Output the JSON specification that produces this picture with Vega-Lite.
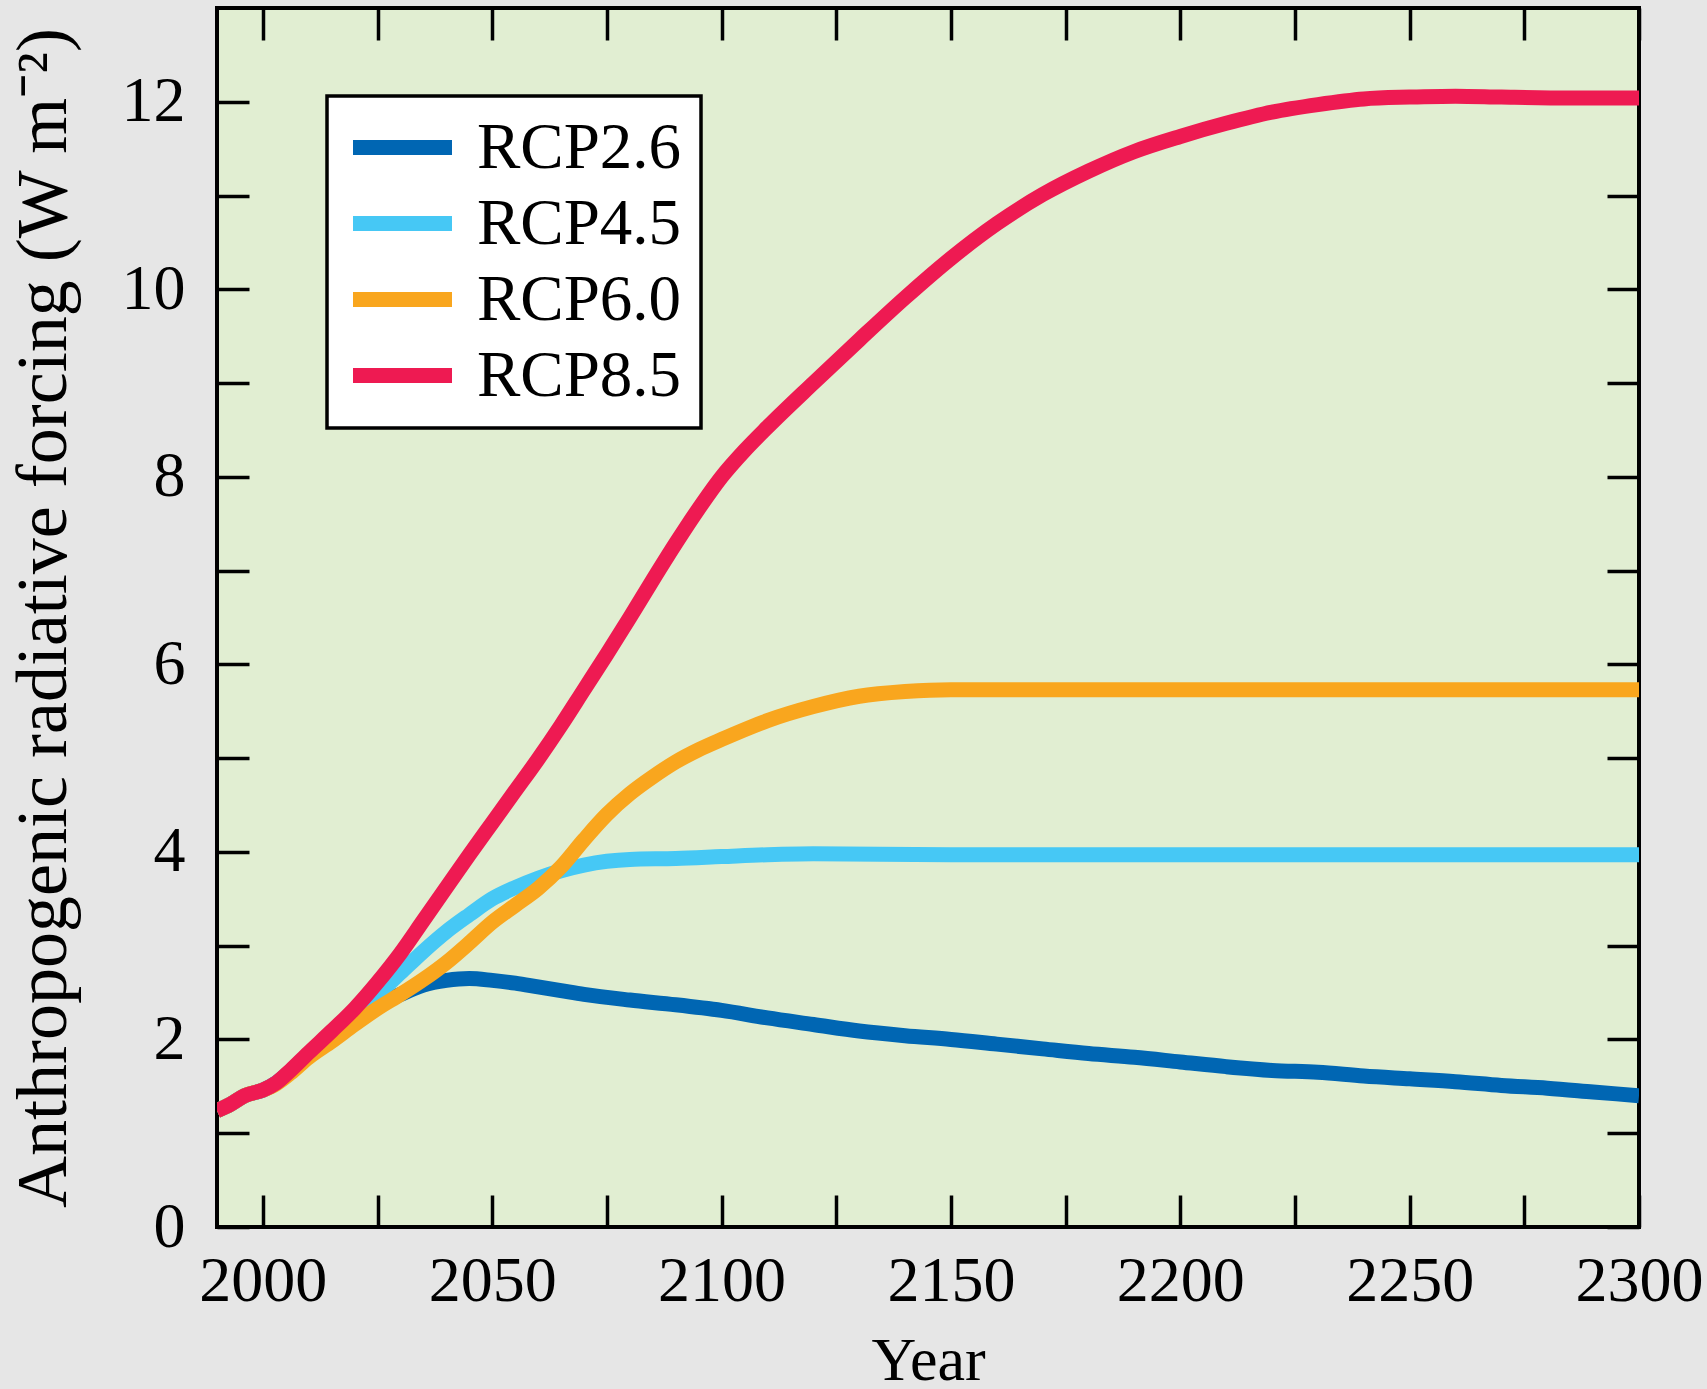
{
  "$schema": "https://vega.github.io/schema/vega-lite/v6.json",
  "autosize": {"type": "none"},
  "width": 1422,
  "height": 1219,
  "padding": {"left": 217, "top": 8, "right": 68, "bottom": 162},
  "background": "#e6e6e6",
  "config": {
    "view": {"fill": "#e1eed2", "stroke": "black", "strokeWidth": 4},
    "axis": {"grid": false, "domain": false, "tickColor": "black", "tickWidth": 3.5, "tickSize": -32, "labelFont": "Liberation Serif", "labelColor": "black", "labelFontSize": 64, "titleFont": "Liberation Serif", "titleColor": "black", "titleFontWeight": "normal", "labelOverlap": false, "labelFlush": false},
    "legend": {"strokeWidth": 3.5}
  },
  "data": {"values": [
    {"s":"RCP2.6","year":1990,"rf":1.24},{"s":"RCP2.6","year":1993,"rf":1.31},{"s":"RCP2.6","year":1996,"rf":1.40},{"s":"RCP2.6","year":2000,"rf":1.46},{"s":"RCP2.6","year":2003,"rf":1.54},{"s":"RCP2.6","year":2006,"rf":1.66},{"s":"RCP2.6","year":2010,"rf":1.84},{"s":"RCP2.6","year":2015,"rf":2.03},{"s":"RCP2.6","year":2020,"rf":2.21},{"s":"RCP2.6","year":2025,"rf":2.36},{"s":"RCP2.6","year":2030,"rf":2.48},{"s":"RCP2.6","year":2035,"rf":2.58},{"s":"RCP2.6","year":2040,"rf":2.63},{"s":"RCP2.6","year":2045,"rf":2.65},{"s":"RCP2.6","year":2050,"rf":2.63},{"s":"RCP2.6","year":2055,"rf":2.60},{"s":"RCP2.6","year":2060,"rf":2.56},{"s":"RCP2.6","year":2065,"rf":2.52},{"s":"RCP2.6","year":2070,"rf":2.48},{"s":"RCP2.6","year":2080,"rf":2.42},{"s":"RCP2.6","year":2090,"rf":2.37},{"s":"RCP2.6","year":2100,"rf":2.31},{"s":"RCP2.6","year":2110,"rf":2.23},{"s":"RCP2.6","year":2120,"rf":2.16},{"s":"RCP2.6","year":2130,"rf":2.09},{"s":"RCP2.6","year":2140,"rf":2.04},{"s":"RCP2.6","year":2150,"rf":2.00},{"s":"RCP2.6","year":2160,"rf":1.95},{"s":"RCP2.6","year":2170,"rf":1.90},{"s":"RCP2.6","year":2180,"rf":1.85},{"s":"RCP2.6","year":2190,"rf":1.81},{"s":"RCP2.6","year":2200,"rf":1.76},{"s":"RCP2.6","year":2210,"rf":1.71},{"s":"RCP2.6","year":2220,"rf":1.67},{"s":"RCP2.6","year":2230,"rf":1.65},{"s":"RCP2.6","year":2240,"rf":1.61},{"s":"RCP2.6","year":2250,"rf":1.58},{"s":"RCP2.6","year":2260,"rf":1.55},{"s":"RCP2.6","year":2270,"rf":1.51},{"s":"RCP2.6","year":2280,"rf":1.48},{"s":"RCP2.6","year":2290,"rf":1.44},{"s":"RCP2.6","year":2300,"rf":1.40},
    {"s":"RCP4.5","year":1990,"rf":1.24},{"s":"RCP4.5","year":1993,"rf":1.31},{"s":"RCP4.5","year":1996,"rf":1.40},{"s":"RCP4.5","year":2000,"rf":1.46},{"s":"RCP4.5","year":2003,"rf":1.54},{"s":"RCP4.5","year":2006,"rf":1.66},{"s":"RCP4.5","year":2010,"rf":1.85},{"s":"RCP4.5","year":2015,"rf":2.05},{"s":"RCP4.5","year":2020,"rf":2.26},{"s":"RCP4.5","year":2025,"rf":2.48},{"s":"RCP4.5","year":2030,"rf":2.71},{"s":"RCP4.5","year":2035,"rf":2.94},{"s":"RCP4.5","year":2040,"rf":3.15},{"s":"RCP4.5","year":2045,"rf":3.33},{"s":"RCP4.5","year":2050,"rf":3.50},{"s":"RCP4.5","year":2055,"rf":3.62},{"s":"RCP4.5","year":2060,"rf":3.72},{"s":"RCP4.5","year":2065,"rf":3.80},{"s":"RCP4.5","year":2070,"rf":3.86},{"s":"RCP4.5","year":2075,"rf":3.90},{"s":"RCP4.5","year":2080,"rf":3.92},{"s":"RCP4.5","year":2090,"rf":3.93},{"s":"RCP4.5","year":2100,"rf":3.95},{"s":"RCP4.5","year":2110,"rf":3.97},{"s":"RCP4.5","year":2120,"rf":3.98},{"s":"RCP4.5","year":2150,"rf":3.97},{"s":"RCP4.5","year":2200,"rf":3.97},{"s":"RCP4.5","year":2250,"rf":3.97},{"s":"RCP4.5","year":2300,"rf":3.97},
    {"s":"RCP6.0","year":1990,"rf":1.24},{"s":"RCP6.0","year":1993,"rf":1.31},{"s":"RCP6.0","year":1996,"rf":1.40},{"s":"RCP6.0","year":2000,"rf":1.46},{"s":"RCP6.0","year":2003,"rf":1.53},{"s":"RCP6.0","year":2006,"rf":1.64},{"s":"RCP6.0","year":2010,"rf":1.81},{"s":"RCP6.0","year":2015,"rf":1.98},{"s":"RCP6.0","year":2020,"rf":2.16},{"s":"RCP6.0","year":2025,"rf":2.33},{"s":"RCP6.0","year":2030,"rf":2.48},{"s":"RCP6.0","year":2035,"rf":2.64},{"s":"RCP6.0","year":2040,"rf":2.82},{"s":"RCP6.0","year":2045,"rf":3.03},{"s":"RCP6.0","year":2050,"rf":3.25},{"s":"RCP6.0","year":2055,"rf":3.43},{"s":"RCP6.0","year":2060,"rf":3.61},{"s":"RCP6.0","year":2065,"rf":3.84},{"s":"RCP6.0","year":2070,"rf":4.13},{"s":"RCP6.0","year":2075,"rf":4.40},{"s":"RCP6.0","year":2080,"rf":4.62},{"s":"RCP6.0","year":2085,"rf":4.80},{"s":"RCP6.0","year":2090,"rf":4.96},{"s":"RCP6.0","year":2095,"rf":5.09},{"s":"RCP6.0","year":2100,"rf":5.20},{"s":"RCP6.0","year":2110,"rf":5.40},{"s":"RCP6.0","year":2120,"rf":5.55},{"s":"RCP6.0","year":2130,"rf":5.66},{"s":"RCP6.0","year":2140,"rf":5.71},{"s":"RCP6.0","year":2150,"rf":5.73},{"s":"RCP6.0","year":2160,"rf":5.73},{"s":"RCP6.0","year":2200,"rf":5.73},{"s":"RCP6.0","year":2250,"rf":5.73},{"s":"RCP6.0","year":2300,"rf":5.73},
    {"s":"RCP8.5","year":1990,"rf":1.24},{"s":"RCP8.5","year":1993,"rf":1.31},{"s":"RCP8.5","year":1996,"rf":1.40},{"s":"RCP8.5","year":2000,"rf":1.46},{"s":"RCP8.5","year":2003,"rf":1.54},{"s":"RCP8.5","year":2006,"rf":1.67},{"s":"RCP8.5","year":2010,"rf":1.86},{"s":"RCP8.5","year":2015,"rf":2.09},{"s":"RCP8.5","year":2020,"rf":2.33},{"s":"RCP8.5","year":2025,"rf":2.61},{"s":"RCP8.5","year":2030,"rf":2.92},{"s":"RCP8.5","year":2035,"rf":3.27},{"s":"RCP8.5","year":2040,"rf":3.62},{"s":"RCP8.5","year":2045,"rf":3.97},{"s":"RCP8.5","year":2050,"rf":4.31},{"s":"RCP8.5","year":2055,"rf":4.65},{"s":"RCP8.5","year":2060,"rf":4.99},{"s":"RCP8.5","year":2065,"rf":5.35},{"s":"RCP8.5","year":2070,"rf":5.73},{"s":"RCP8.5","year":2075,"rf":6.11},{"s":"RCP8.5","year":2080,"rf":6.50},{"s":"RCP8.5","year":2085,"rf":6.90},{"s":"RCP8.5","year":2090,"rf":7.29},{"s":"RCP8.5","year":2095,"rf":7.66},{"s":"RCP8.5","year":2100,"rf":8.00},{"s":"RCP8.5","year":2105,"rf":8.28},{"s":"RCP8.5","year":2110,"rf":8.53},{"s":"RCP8.5","year":2120,"rf":9.00},{"s":"RCP8.5","year":2130,"rf":9.46},{"s":"RCP8.5","year":2140,"rf":9.91},{"s":"RCP8.5","year":2150,"rf":10.33},{"s":"RCP8.5","year":2160,"rf":10.70},{"s":"RCP8.5","year":2170,"rf":11.01},{"s":"RCP8.5","year":2180,"rf":11.26},{"s":"RCP8.5","year":2190,"rf":11.47},{"s":"RCP8.5","year":2200,"rf":11.63},{"s":"RCP8.5","year":2210,"rf":11.77},{"s":"RCP8.5","year":2220,"rf":11.89},{"s":"RCP8.5","year":2230,"rf":11.97},{"s":"RCP8.5","year":2240,"rf":12.03},{"s":"RCP8.5","year":2250,"rf":12.05},{"s":"RCP8.5","year":2260,"rf":12.06},{"s":"RCP8.5","year":2270,"rf":12.05},{"s":"RCP8.5","year":2285,"rf":12.04},{"s":"RCP8.5","year":2300,"rf":12.04}
  ]},
  "resolve": {"axis": {"x": "independent", "y": "independent"}},
  "layer": [
    {
      "mark": {"type": "line", "strokeWidth": 15, "interpolate": "monotone", "clip": true, "strokeJoin": "round"},
      "encoding": {
        "x": {"field": "year", "type": "quantitative", "scale": {"domain": [1990, 2300], "nice": false, "zero": false},
          "axis": {"orient": "bottom", "values": [2000,2025,2050,2075,2100,2125,2150,2175,2200,2225,2250,2275,2300], "format": "d", "labelExpr": "datum.value % 50 === 0 ? datum.label : ''", "labelPadding": 54, "title": "Year", "titleFontSize": 62, "titleY": 103}},
        "y": {"field": "rf", "type": "quantitative", "scale": {"domain": [0, 13], "nice": false},
          "axis": {"orient": "left", "values": [0,1,2,3,4,5,6,7,8,9,10,11,12], "labelExpr": "datum.value % 2 === 0 ? datum.label : ''", "labelPadding": 64, "title": "Anthropogenic radiative forcing (W m⁻²)", "titleFontSize": 72, "titleX": -137}},
        "color": {"field": "s", "type": "nominal", "scale": {"domain": ["RCP2.6","RCP4.5","RCP6.0","RCP8.5"], "range": ["#0066b3","#46c8f5","#f9a61e","#ee1a52"]},
          "legend": {"orient": "none", "legendX": 110, "legendY": 88, "title": null, "fillColor": "white", "strokeColor": "black", "padding": 19, "rowPadding": 10, "labelFont": "Liberation Serif", "labelFontSize": 65, "labelColor": "black", "labelLimit": 0, "labelExpr": "datum.label + '\u00a0'", "labelOffset": 42, "symbolOffset": 24, "symbolType": "M-2,0H2", "symbolSize": 2450, "symbolStrokeWidth": 15, "cornerRadius": 0}}
      }
    },
    {
      "mark": {"type": "line", "strokeOpacity": 0, "strokeWidth": 1},
      "encoding": {
        "x": {"field": "year", "type": "quantitative", "axis": {"orient": "top", "values": [2000,2025,2050,2075,2100,2125,2150,2175,2200,2225,2250,2275,2300], "labels": false, "title": null}},
        "y": {"field": "rf", "type": "quantitative", "axis": {"orient": "right", "values": [0,1,2,3,4,5,6,7,8,9,10,11,12], "labels": false, "title": null}},
        "detail": {"field": "s", "type": "nominal"}
      }
    }
  ]
}
